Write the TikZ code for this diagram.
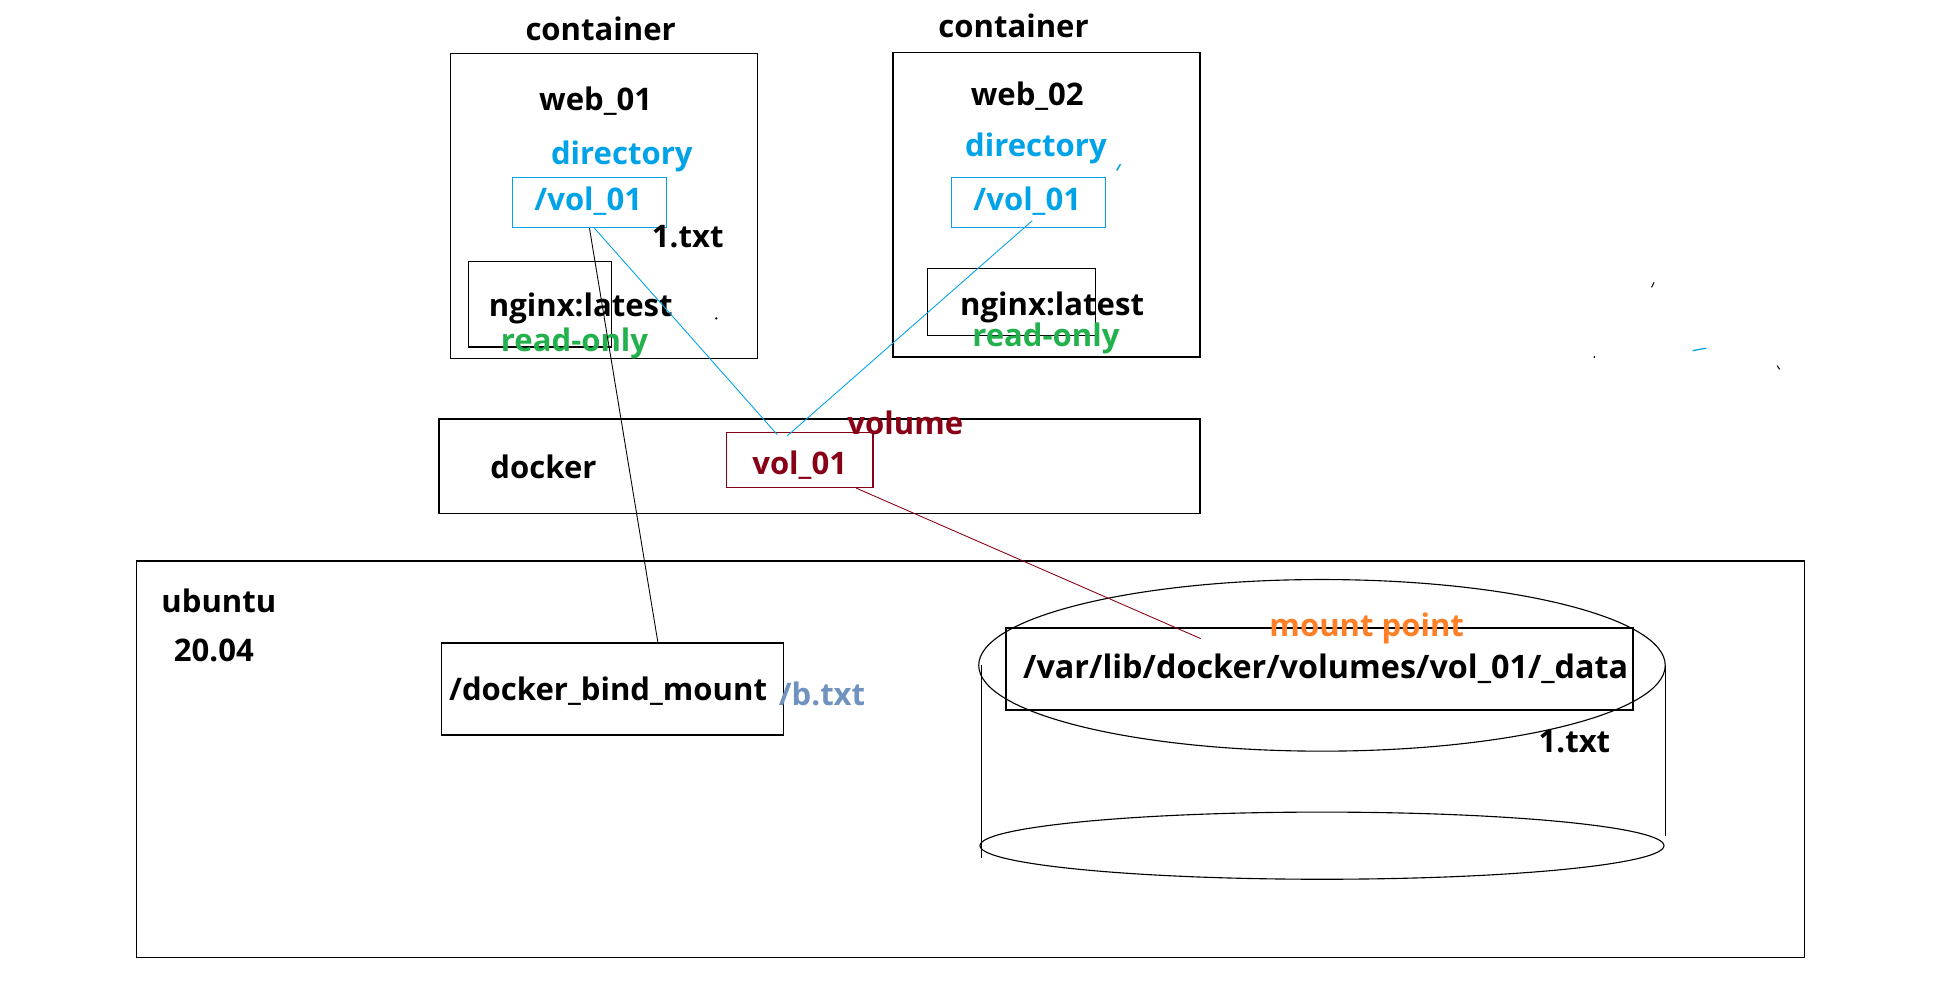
\documentclass[tikz,border=0pt]{standalone}
\usepackage{fontspec}
\setmainfont{Open Sans}[BoldFont={Open Sans Bold}]
\usetikzlibrary{calc}
\definecolor{pblue}{RGB}{0,162,232}
\definecolor{pgreen}{RGB}{34,177,76}
\definecolor{pdred}{RGB}{136,0,21}
\definecolor{porange}{RGB}{255,127,39}
\definecolor{pgray}{RGB}{112,146,190}
\tikzset{
  box/.style={draw=black, line width=1pt, inner sep=0pt},
  bluebox/.style={draw=pblue, line width=1pt, inner sep=0pt},
  redbox/.style={draw=pdred, line width=1pt, inner sep=0pt},
  txt/.style={inner sep=0pt, yshift=-2pt, font=\bfseries\fontsize{25}{30}\selectfont},
  link/.style={line width=0.7pt},
}
\begin{document}
\begin{tikzpicture}[x=1pt,y=-1pt]
\useasboundingbox (0,0) rectangle (1568,803);
% containers
\node[box, minimum width=247pt, minimum height=245pt] (c1) at (485.5,165.5) {};
\node[box, minimum width=247pt, minimum height=245pt] (c2) at (841.5,164.5) {};
\node[txt] (c1t) at (483,21) {container};
\node[txt] (c2t) at (815,19) {container};
\node[txt] (w1) at (479,79) {web\_01};
\node[txt] (w2) at (826,75) {web\_02};
\node[txt, text=pblue] (d1) at (500,124) {directory};
\node[txt, text=pblue] (d2) at (833,117) {directory};
\node[bluebox, minimum width=124pt, minimum height=40pt] (vb1) at (474,163) {};
\node[bluebox, minimum width=124pt, minimum height=40pt] (vb2) at (827,163) {};
\node[txt, text=pblue] (v1t) at (473,160) {/vol\_01};
\node[txt, text=pblue] (v2t) at (826,160) {/vol\_01};
\node[txt] (f1) at (553,188) {1.txt};
\node[box, minimum width=115pt, minimum height=69pt] (ng1) at (434.5,244.5) {};
\node[box, minimum width=135pt, minimum height=54pt] (ng2) at (813.5,243) {};
\node[txt] (n1t) at (467,246) {nginx:latest};
\node[txt] (n2t) at (846,245) {nginx:latest};
\node[txt, text=pgreen] (r1) at (462,274) {read-only};
\node[txt, text=pgreen] (r2) at (841,270) {read-only};
% docker
\node[box, minimum width=612pt, minimum height=76pt] (dk) at (659,375) {};
\node[txt] (dkt) at (437,373) {docker};
\node[redbox, minimum width=118pt, minimum height=44pt] (vol) at (643,370) {};
\node[txt, text=pdred] (volt) at (643,372) {vol\_01};
\node[txt, text=pdred] (volume) at (728,338) {volume};
% ubuntu
\node[box, minimum width=1341pt, minimum height=319pt] (ub) at (780.5,610.5) {};
\node[txt] (ubt) at (176,481) {ubuntu};
\node[txt] (ubv) at (172,521) {20.04};
\node[box, minimum width=275pt, minimum height=74pt] (bind) at (492.5,554) {};
\node[txt] (bindt) at (489,554) {/docker\_bind\_mount};
\node[txt, text=pgray] (bt) at (661,556) {/b.txt};
% cylinder
\draw[line width=0.9pt] (789,535) -- (789,690);
\draw[line width=0.9pt] (1339,535) -- (1339,672);
\draw[line width=0.9pt] (1063,535) ellipse [x radius=276, y radius=69];
\draw[line width=0.9pt] (1063,680) ellipse [x radius=275, y radius=27];
\node[box, minimum width=504pt, minimum height=66pt] (data) at (1061,538) {};
\node[txt, font=\bfseries\fontsize{26}{30}\selectfont] (datat) at (1066,536) {/var/lib/docker/volumes/vol\_01/\_data};
\node[txt, text=porange] (mp) at (1099,503) {mount point};
\node[txt] (f2) at (1266,594) {1.txt};
% connectors
\draw[link, black] (vb1.south) -- ([xshift=36.5pt]bind.north);
\draw[link, pblue] ([xshift=4pt]vb1.south) -- ([xshift=-18pt,yshift=-2pt]vol.north);
\draw[link, pblue] ([xshift=3pt,yshift=6pt]vb2.south) -- ([xshift=-10pt,yshift=-3pt]vol.north);
\draw[link, pdred] ([xshift=-14pt]vol.south east) -- ([xshift=157pt,yshift=-9pt]data.north west);
% stray marks
\fill (576,256) circle (1pt);
\draw[pblue, line width=1.2pt] (898,137) -- (901,132);
\draw[line width=0.8pt] (1328,231) -- (1330,227);
\draw[pblue, line width=1pt] (1361,282) -- (1366,281) -- (1372,280);
\fill (1282,287) circle (0.8pt);
\draw[line width=0.8pt] (1429,294) -- (1431,297);
\end{tikzpicture}
\end{document}
